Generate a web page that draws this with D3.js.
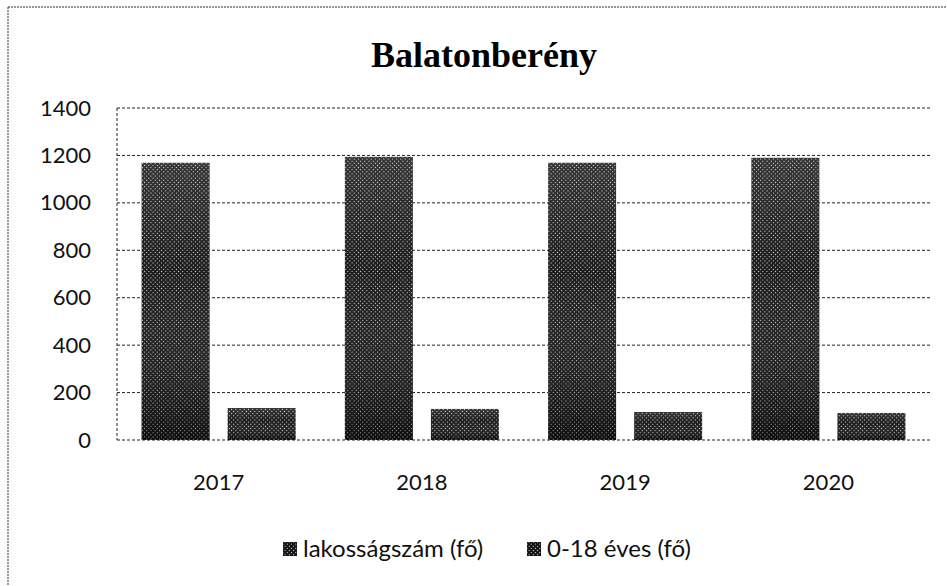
<!DOCTYPE html>
<html>
<head>
<meta charset="utf-8">
<style>
  body { margin: 0; background: #fff; }
  svg { display: block; }
</style>
</head>
<body>
  <svg width="947" height="586"></svg>

  <script src="https://d3js.org/d3.v7.min.js"></script>

  <script>
    // chart data
    const years = ["2017", "2018", "2019", "2020"];
    const series = ["lakosságszám (fő)", "0-18 éves (fő)"];
    const population = [1169, 1194, 1169, 1190];
    const youth = [135, 131, 118, 114];
    const yTicks = [0, 200, 400, 600, 800, 1000, 1200, 1400];

    const svg = d3.select("svg"),
          width = +svg.attr("width"),
          height = +svg.attr("height");

    const plot = { left: 117, right: 930, top: 108, bottom: 440 };
    const labelFont = "Lato, 'Open Sans', sans-serif";

    // halftone fill, looks like the scanned bars
    const defs = svg.append("defs");
    const pat = defs.append("pattern")
      .attr("id", "halftone")
      .attr("width", 3).attr("height", 3)
      .attr("patternUnits", "userSpaceOnUse")
      .attr("patternTransform", "rotate(45)");
    pat.append("rect").attr("width", 3).attr("height", 3).attr("fill", "#141414");
    pat.append("rect").attr("x", 1).attr("y", 1).attr("width", 1).attr("height", 1).attr("fill", "#d8d8d8");

    const shade = defs.append("linearGradient")
      .attr("id", "shade").attr("x1", 0).attr("y1", 0).attr("x2", 0).attr("y2", 1);
    shade.append("stop").attr("offset", "0%").attr("stop-color", "#fff").attr("stop-opacity", 0.15);
    shade.append("stop").attr("offset", "40%").attr("stop-color", "#fff").attr("stop-opacity", 0.04);
    shade.append("stop").attr("offset", "100%").attr("stop-color", "#000").attr("stop-opacity", 0.3);

    // outer dotted frame (top + left, like the scan)
    svg.append("line")
      .attr("x1", 8).attr("x2", width).attr("y1", 7).attr("y2", 7)
      .attr("stroke", "#333").attr("stroke-dasharray", "2,1");
    svg.append("line")
      .attr("x1", 8).attr("x2", 8).attr("y1", 7).attr("y2", height)
      .attr("stroke", "#333").attr("stroke-dasharray", "2,1");

    // title
    svg.append("text")
      .attr("x", 484).attr("y", 67)
      .attr("text-anchor", "middle")
      .attr("font-family", "'Liberation Serif', 'Times New Roman', serif")
      .attr("font-weight", "bold")
      .attr("font-size", 36)
      .text("Balatonberény");

    // scales
    const x0 = d3.scaleBand()
      .domain(years)
      .range([plot.left, plot.right])
      .padding(0);

    const groupPad = (x0.bandwidth() - 154) / 2;
    const x1 = d3.scaleBand()
      .domain(series)
      .range([groupPad, x0.bandwidth() - groupPad])
      .paddingInner(0.21);

    const y = d3.scaleLinear()
      .domain([0, 1400])
      .range([plot.bottom, plot.top]);

    // gridlines
    svg.append("g")
      .selectAll("line")
      .data(yTicks)
      .join("line")
      .attr("x1", plot.left).attr("x2", plot.right)
      .attr("y1", d => y(d)).attr("y2", d => y(d))
      .attr("stroke", "#222")
      .attr("stroke-width", 1)
      .attr("stroke-dasharray", "3,2");

    // left axis line (dotted)
    svg.append("line")
      .attr("x1", plot.left).attr("x2", plot.left)
      .attr("y1", y(1400)).attr("y2", y(0))
      .attr("stroke", "#222")
      .attr("stroke-dasharray", "3,2");

    // y axis labels via d3 axis
    const yAxis = svg.append("g")
      .attr("transform", `translate(${plot.left}, 0)`)
      .call(d3.axisLeft(y).tickValues(yTicks).tickFormat(d3.format("d")).tickSize(0).tickPadding(26));
    yAxis.select(".domain").remove();
    yAxis.selectAll("text")
      .attr("font-family", labelFont)
      .attr("font-size", 22)
      .attr("fill", "#111");

    // x axis labels
    const xAxis = svg.append("g")
      .attr("transform", `translate(0, ${plot.bottom})`)
      .call(d3.axisBottom(x0).tickSize(0).tickPadding(34));
    xAxis.select(".domain").remove();
    xAxis.selectAll("text")
      .attr("font-family", labelFont)
      .attr("font-size", 22)
      .attr("fill", "#111");

    // bars
    const rows = years.map((yr, i) => ({ year: yr, values: [population[i], youth[i]] }));

    const groups = svg.append("g")
      .selectAll("g")
      .data(rows)
      .join("g")
      .attr("transform", d => `translate(${x0(d.year)}, 0)`);

    const bars = groups.selectAll("g")
      .data(d => d.values.map((v, j) => ({ key: series[j], value: v })))
      .join("g");

    bars.append("rect")
      .attr("x", d => x1(d.key))
      .attr("y", d => y(d.value))
      .attr("width", x1.bandwidth())
      .attr("height", d => y(0) - y(d.value))
      .attr("fill", "url(#halftone)");

    bars.append("rect")
      .attr("x", d => x1(d.key))
      .attr("y", d => y(d.value))
      .attr("width", x1.bandwidth())
      .attr("height", d => y(0) - y(d.value))
      .attr("fill", "url(#shade)");

    // legend
    const legendX = [283, 527];
    const legend = svg.append("g")
      .selectAll("g")
      .data(series)
      .join("g")
      .attr("transform", (d, i) => `translate(${legendX[i]}, 542)`);

    legend.append("rect")
      .attr("width", 14).attr("height", 14)
      .attr("fill", "url(#halftone)");

    legend.append("text")
      .attr("x", 20).attr("y", 15)
      .attr("font-family", labelFont)
      .attr("font-size", 24)
      .attr("fill", "#111")
      .text(d => d);
  </script>
</body>
</html>
